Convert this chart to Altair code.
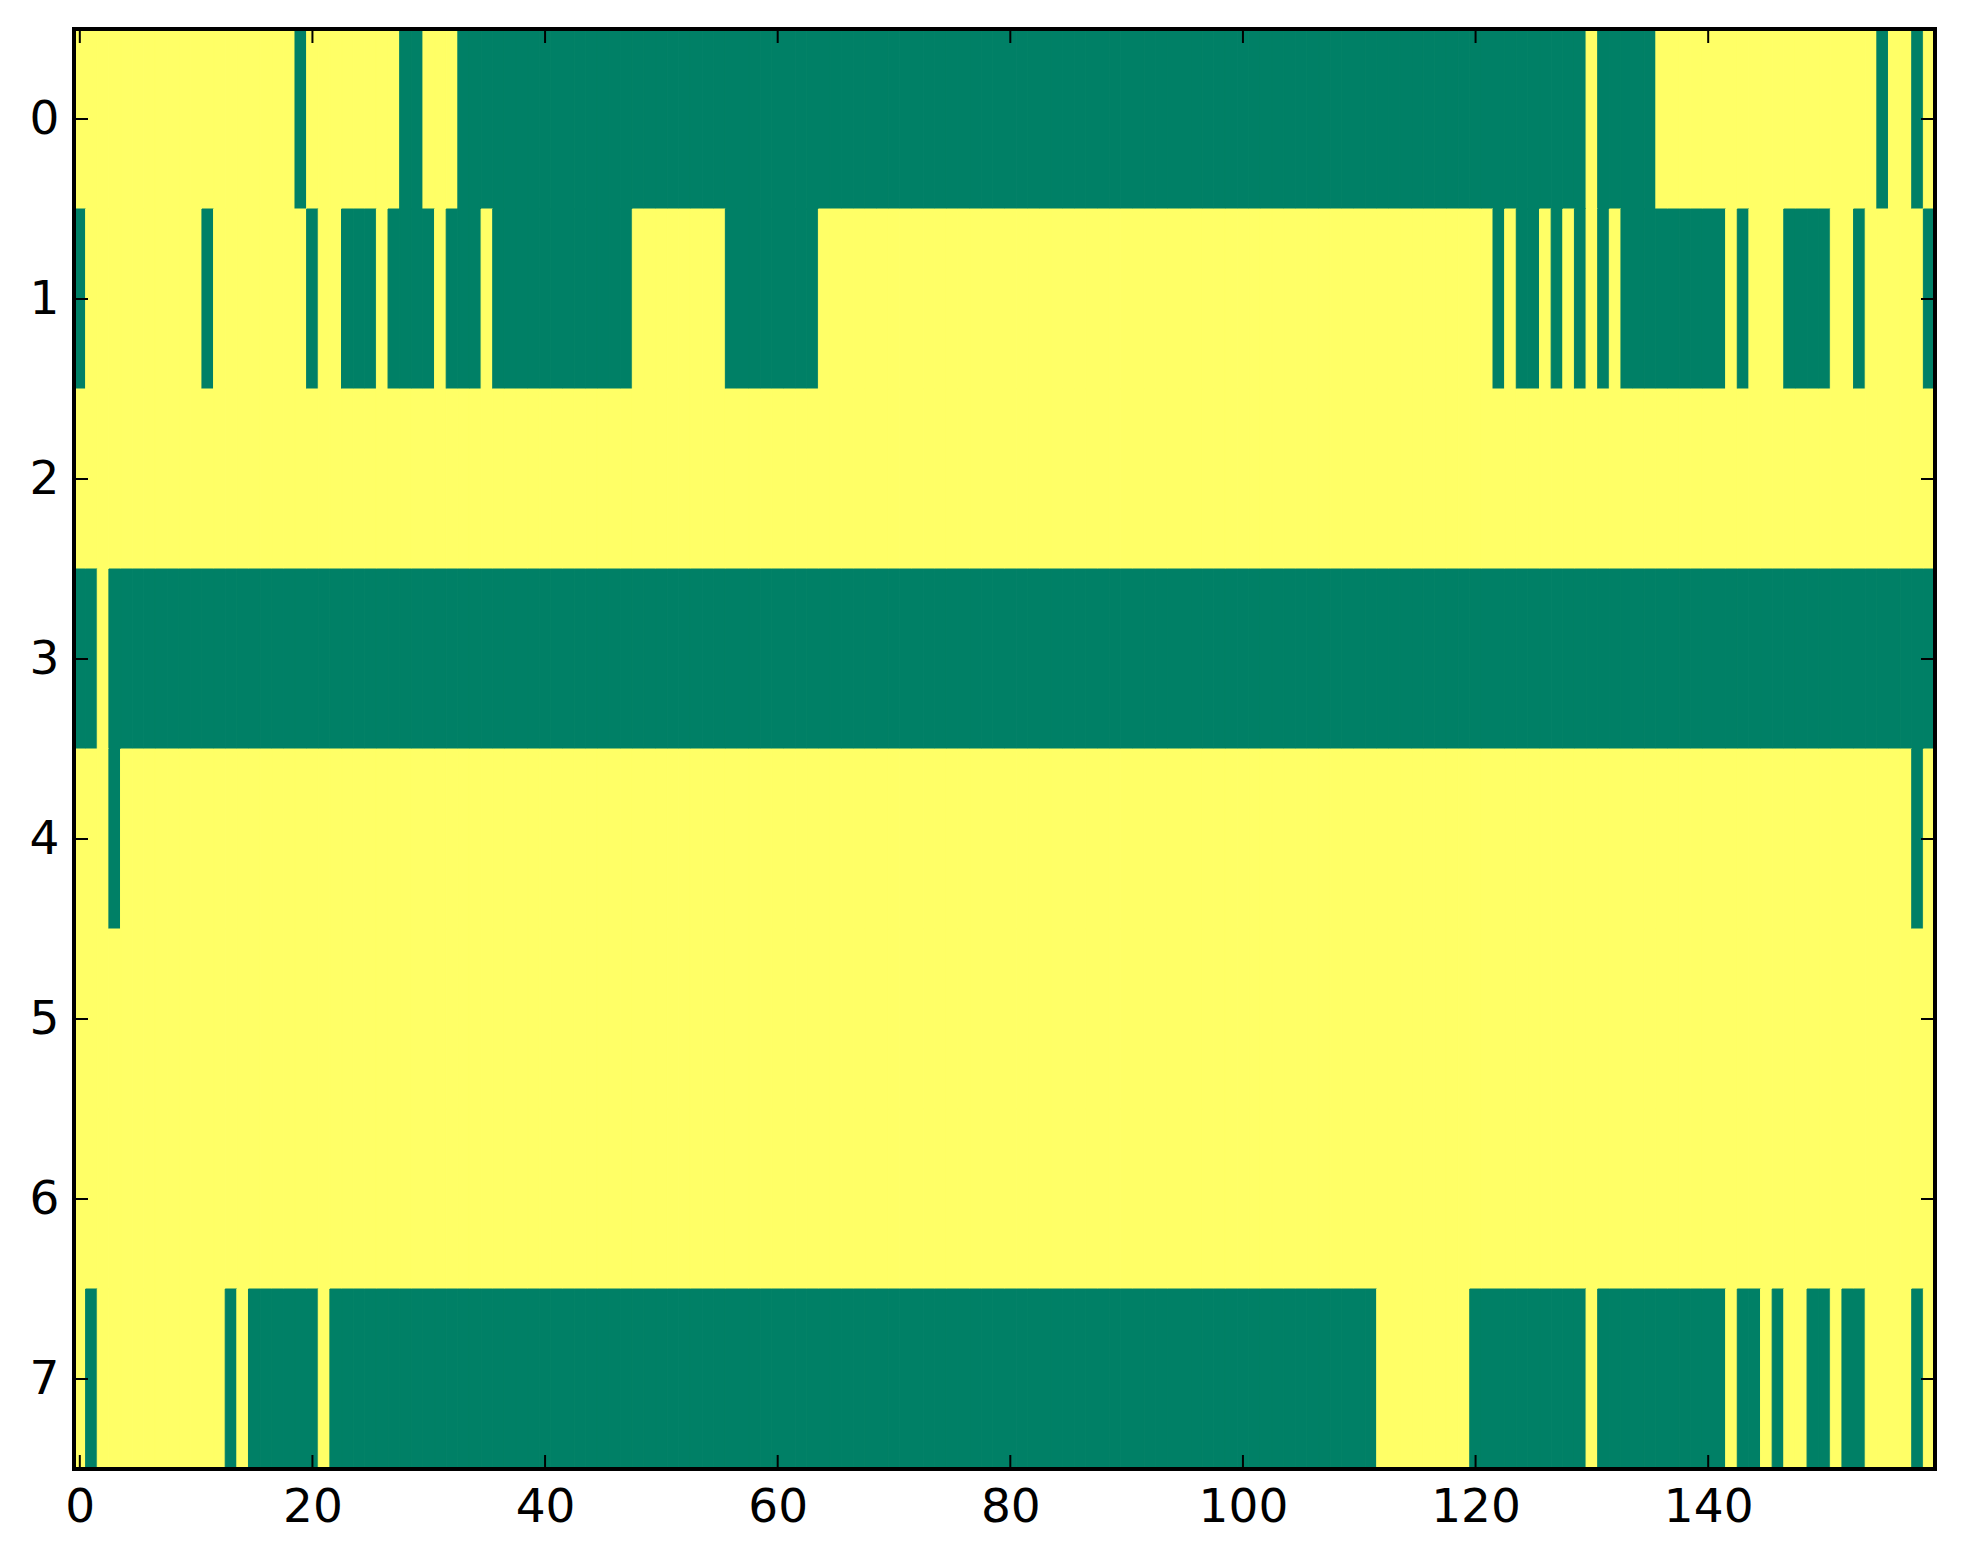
import altair as alt
import pandas as pd

N_COLS = 160

# columns (inclusive ranges) that are 0 / green in each row; everything else is 1 / yellow
row0 = [(19, 19), (28, 29), (33, 129), (131, 135), (155, 155), (158, 158)]
row1 = [(0, 0), (11, 11), (20, 20), (23, 25), (27, 30), (32, 34), (36, 47), (56, 63),
        (122, 122), (124, 125), (127, 127), (129, 129), (131, 131), (133, 141),
        (143, 143), (147, 150), (153, 153), (159, 159)]
row2 = []
row3 = [(0, 1), (3, 159)]
row4 = [(3, 3), (158, 158)]
row5 = []
row6 = []
row7 = [(1, 1), (13, 13), (15, 20), (22, 111), (120, 129), (131, 141), (143, 144),
        (146, 146), (149, 150), (152, 153), (158, 158)]
green_runs = [row0, row1, row2, row3, row4, row5, row6, row7]

x_ticks = [0, 20, 40, 60, 80, 100, 120, 140]
y_ticks = [0, 1, 2, 3, 4, 5, 6, 7]

GREEN = "#008066"
YELLOW = "#ffff66"

records = []
for r, runs in enumerate(green_runs):
    for c in range(N_COLS):
        v = 0 if any(a <= c <= b for a, b in runs) else 1
        records.append({"row": r, "col": c, "value": v})
cells = pd.DataFrame(records)

W, H = 1861, 1440
TICK = 14
FONT = "DejaVu Sans"

xs = alt.Scale(domain=[-0.5, N_COLS - 0.5], nice=False, zero=False)
ys = alt.Scale(domain=[-0.5, 7.5], nice=False, zero=False, reverse=True)
cs = alt.Scale(domain=[0, 1], range=[GREEN, YELLOW])

axis_common = dict(title=None, format="d", ticks=False, tickSize=0, domain=False,
                   grid=False, labelPadding=15, labelFontSize=47, labelFont=FONT,
                   labelColor="black", labelFlush=False, labelOverlap=False)
x_axis = alt.Axis(values=x_ticks, **axis_common)
y_axis = alt.Axis(values=y_ticks, **axis_common)

heat = alt.Chart(cells).mark_rect(strokeWidth=1).transform_calculate(
    x0="datum.col - 0.5", x1="datum.col + 0.5",
    y0="datum.row - 0.5", y1="datum.row + 0.5"
).encode(
    x=alt.X("x0:Q", scale=xs, axis=x_axis),
    x2="x1:Q",
    y=alt.Y("y0:Q", scale=ys, axis=y_axis),
    y2="y1:Q",
    color=alt.Color("value:N", scale=cs, legend=None),
    stroke=alt.Stroke("value:N", scale=cs, legend=None),
)

frame = alt.Chart(pd.DataFrame({"a": [0]})).mark_rect(
    filled=False, stroke="black", strokeWidth=4
).encode(x=alt.value(0), x2=alt.value(W), y=alt.value(0), y2=alt.value(H))

xt = pd.DataFrame({"t": x_ticks})
yt = pd.DataFrame({"t": y_ticks})
tick_style = dict(color="black", strokeWidth=2)

bottom = alt.Chart(xt).mark_rule(**tick_style).encode(
    x=alt.X("t:Q", scale=xs, axis=x_axis), y=alt.value(H), y2=alt.value(H - TICK))
top = alt.Chart(xt).mark_rule(**tick_style).encode(
    x=alt.X("t:Q", scale=xs, axis=x_axis), y=alt.value(0), y2=alt.value(TICK))
left = alt.Chart(yt).mark_rule(**tick_style).encode(
    y=alt.Y("t:Q", scale=ys, axis=y_axis), x=alt.value(0), x2=alt.value(TICK))
right = alt.Chart(yt).mark_rule(**tick_style).encode(
    y=alt.Y("t:Q", scale=ys, axis=y_axis), x=alt.value(W), x2=alt.value(W - TICK))

chart = alt.layer(heat, frame, bottom, top, left, right).properties(
    width=W, height=H,
    padding={"left": 21, "top": 19, "right": 10, "bottom": 10},
    background="white",
).configure_view(stroke=None)

chart.save("out.html", embed_options={"renderer": "svg", "actions": False})
